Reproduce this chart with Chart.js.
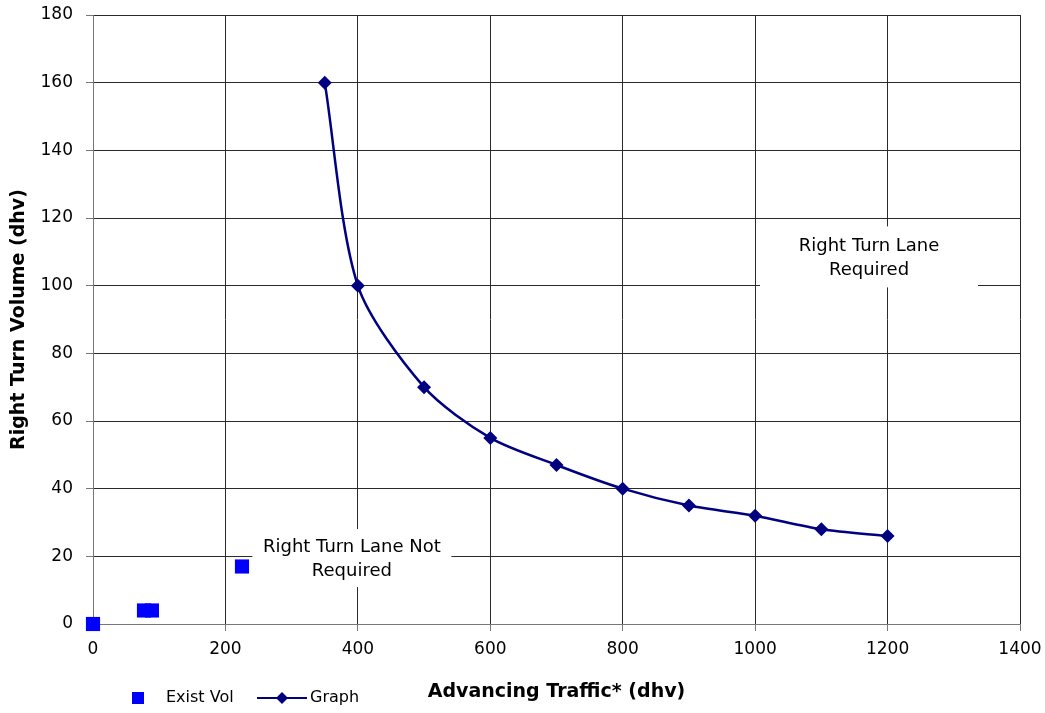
<!DOCTYPE html>
<html>
<head>
<meta charset="utf-8">
<script src="https://cdn.jsdelivr.net/npm/chart.js@4.4.0/dist/chart.umd.min.js"></script>
<style>
html,body{margin:0;padding:0;background:#fff;}
#wrap{width:1045px;height:713px;position:relative;}
</style>
</head>
<body>
<div id="wrap"><canvas id="c" width="1045" height="713"></canvas></div>
<script>
// ---- data ----
const existVolX = [0, 77, 89, 225];
const existVolY = [0, 4, 4, 17];
const graphX = [350, 400, 500, 600, 700, 800, 900, 1000, 1100, 1200];
const graphY = [160, 100, 70, 55, 47, 40, 35, 32, 28, 26];
const xTicks = [0, 200, 400, 600, 800, 1000, 1200, 1400];
const yTicks = [0, 20, 40, 60, 80, 100, 120, 140, 160, 180];
const seriesNames = ['Exist Vol', 'Graph'];
const notes = [
  {lines: ['Right Turn Lane Not', 'Required'], x: 391, y: 19.5, w: 199, h: 58},
  {lines: ['Right Turn Lane', 'Required'], x: 1172, y: 108.5, w: 218, h: 61}
];

Chart.defaults.font.family = 'DejaVu Sans';
Chart.defaults.color = '#000';

const existPts = existVolX.map((x, i) => ({x: x, y: existVolY[i]}));
const graphPts = graphX.map((x, i) => ({x: x, y: graphY[i]}));

const notesPlugin = {
  id: 'notes',
  beforeDatasetsDraw(chart) {
    const ctx = chart.ctx, xs = chart.scales.x, ys = chart.scales.y;
    ctx.save();
    ctx.font = '18px "DejaVu Sans"';
    ctx.textAlign = 'center';
    ctx.textBaseline = 'middle';
    notes.forEach(n => {
      const cx = xs.getPixelForValue(n.x), cy = ys.getPixelForValue(n.y);
      ctx.fillStyle = '#fff';
      ctx.fillRect(cx - n.w / 2, cy - n.h / 2, n.w, n.h);
      ctx.fillStyle = '#000';
      ctx.fillText(n.lines[0], cx, cy - 11);
      ctx.fillText(n.lines[1], cx, cy + 13);
    });
    ctx.restore();
  }
};

const legendPlugin = {
  id: 'customLegend',
  afterDraw(chart) {
    const ctx = chart.ctx;
    const d0 = chart.data.datasets[0], d1 = chart.data.datasets[1];
    const y = 698;
    ctx.save();
    ctx.font = '16px "DejaVu Sans"';
    ctx.textBaseline = 'middle';
    ctx.textAlign = 'left';
    ctx.fillStyle = d0.backgroundColor;
    ctx.fillRect(132, y - 6, 12, 12);
    ctx.fillStyle = '#000';
    ctx.fillText(d0.label, 166, y);
    ctx.strokeStyle = d1.borderColor;
    ctx.lineWidth = 2;
    ctx.beginPath(); ctx.moveTo(257, y); ctx.lineTo(307, y); ctx.stroke();
    ctx.fillStyle = d1.pointBackgroundColor;
    ctx.beginPath();
    ctx.moveTo(282, y - 6); ctx.lineTo(288, y); ctx.lineTo(282, y + 6); ctx.lineTo(276, y);
    ctx.closePath(); ctx.fill();
    ctx.fillStyle = '#000';
    ctx.fillText(d1.label, 310, y);
    ctx.restore();
  }
};

new Chart(document.getElementById('c'), {
  type: 'scatter',
  data: {
    datasets: [
      {
        label: seriesNames[0],
        data: existPts,
        showLine: false,
        clip: false,
        pointStyle: 'rect',
        pointRadius: 10,
        pointHoverRadius: 10,
        backgroundColor: '#0000FF',
        borderColor: '#0000FF',
        borderWidth: 0
      },
      {
        label: seriesNames[1],
        data: graphPts,
        showLine: true,
        clip: false,
        tension: 0.28,
        borderColor: '#000080',
        borderWidth: 2.5,
        pointStyle: 'rectRot',
        pointRadius: 7,
        pointHoverRadius: 7,
        pointBackgroundColor: '#000080',
        pointBorderColor: '#000080',
        pointBorderWidth: 0,
        backgroundColor: '#000080'
      }
    ]
  },
  options: {
    responsive: false,
    animation: false,
    devicePixelRatio: 1,
    layout: {padding: {left: 0, right: 25, top: 15, bottom: 0}},
    plugins: {legend: {display: false}, tooltip: {enabled: false}},
    scales: {
      x: {
        type: 'linear',
        min: 0, max: 1400,
        afterBuildTicks: s => { s.ticks = xTicks.map(v => ({value: v})); },
        afterFit: s => { s.height = 89; s.paddingLeft = 0; s.paddingRight = 0; },
        grid: {color: '#2a2a2a', lineWidth: 1, tickLength: 7, tickColor: '#777'},
        border: {color: '#777', width: 1},
        ticks: {font: {size: 17}, padding: 8, maxRotation: 0, color: '#000', callback: v => String(v)},
        title: {display: true, text: 'Advancing Traffic* (dhv)', font: {size: 19, weight: 'bold'}, padding: {top: 0, bottom: 10}, color: '#000'}
      },
      y: {
        type: 'linear',
        min: 0, max: 180,
        afterBuildTicks: s => { s.ticks = yTicks.map(v => ({value: v})); },
        afterFit: s => { s.width = 93; s.paddingTop = 0; s.paddingBottom = 0; },
        grid: {color: '#2a2a2a', lineWidth: 1, tickLength: 7, tickColor: '#777'},
        border: {color: '#777', width: 1},
        ticks: {font: {size: 17}, padding: 13, color: '#000', callback: v => String(v)},
        title: {display: true, text: 'Right Turn Volume (dhv)', font: {size: 19, weight: 'bold'}, padding: {top: 8, bottom: 0}, color: '#000'}
      }
    }
  },
  plugins: [notesPlugin, legendPlugin]
});
</script>
</body>
</html>
